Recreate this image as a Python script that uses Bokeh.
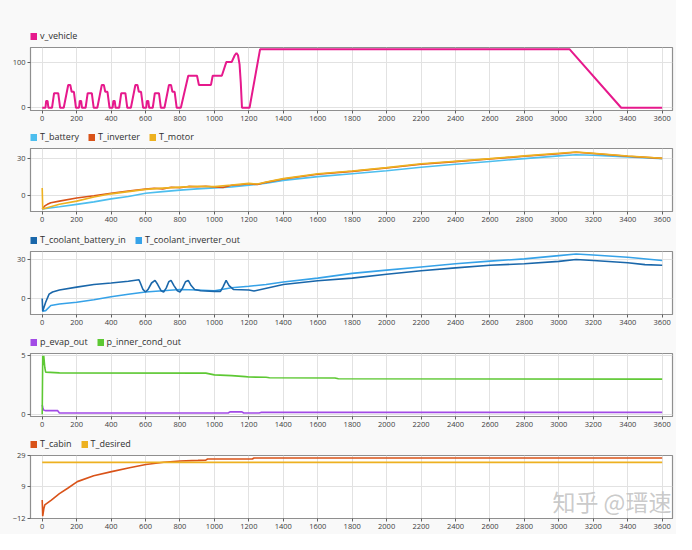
from bokeh.plotting import figure
from bokeh.layouts import column
from bokeh.models import Range1d, FixedTicker, Legend, LegendItem, Label
from bokeh.embed import file_html
from bokeh.resources import INLINE

# ---------------- data ----------------
x_ticks = [0, 200, 400, 600, 800, 1000, 1200, 1400, 1600, 1800, 2000, 2200,
           2400, 2600, 2800, 3000, 3200, 3400, 3600]

v_t = [0, 19, 23, 31, 36, 57, 69, 93, 104, 125, 151, 163, 171, 184, 196,
       214, 218, 226, 231, 252, 264, 288, 299, 320, 346, 358, 366, 379, 391,
       409, 413, 421, 426, 447, 459, 483, 494, 515, 541, 553, 561, 574, 586,
       604, 608, 616, 621, 642, 654, 678, 689, 710, 736, 748, 756, 769, 781,
       805, 848, 899, 910, 980, 990, 1043, 1069, 1100, 1118, 1128, 1137, 1146,
       1153, 1160, 1204, 1265, 3063, 3362, 3600]
v_vehicle = [0, 0, 15, 15, 0, 0, 32, 32, 0, 0, 50, 50, 35, 35, 0,
             0, 15, 15, 0, 0, 32, 32, 0, 0, 50, 50, 35, 35, 0,
             0, 15, 15, 0, 0, 32, 32, 0, 0, 50, 50, 35, 35, 0,
             0, 15, 15, 0, 0, 32, 32, 0, 0, 50, 50, 35, 35, 0,
             0, 70, 70, 50, 50, 70, 70, 100, 100, 115, 120, 115, 95,
             55, 0, 0, 128, 128, 0, 0]

bat_t = [0, 100, 200, 300, 400, 500, 600, 700, 800, 900, 1000, 1100, 1200,
         1300, 1400, 1600, 1800, 2000, 2200, 2400, 2600, 2800, 3000, 3100,
         3200, 3400, 3600]
T_battery = [-11, -9.2, -7.2, -5.2, -2.8, -0.8, 1.8, 3.1, 4.3, 5.3, 6.1, 6.9,
             8.2, 10, 12.2, 15.2, 17.6, 20, 22.8, 25.3, 27.5, 29.8, 32, 33,
             32.5, 31.2, 29.8]

inv_t = [0, 15, 30, 50, 100, 200, 300, 400, 500, 600, 650, 700, 750, 800, 850,
         900, 950, 1000, 1050, 1100, 1150, 1200, 1250, 1300, 1400, 1600, 1800,
         2000, 2200, 2400, 2600, 2800, 3000, 3100, 3200, 3400, 3600]
T_inverter = [-11, -8.5, -7.2, -5.9, -4.6, -2.1, -0.3, 1.8, 3.6, 5.1, 5.8, 5.3,
              6.6, 6.2, 7.3, 7.0, 7.4, 6.8, 6.4, 8.2, 8.6, 9.5, 8.8, 10.6,
              13.3, 17.2, 19.5, 22.2, 25.3, 27.4, 29.5, 31.7, 33.8, 35, 34,
              31.7, 30]

mot_t = [0, 3, 100, 200, 300, 400, 500, 600, 700, 800, 900, 1000, 1100, 1200,
         1250, 1300, 1400, 1600, 1800, 2000, 2200, 2400, 2600, 2800, 3000,
         3100, 3200, 3400, 3600]
T_motor = [6, -11, -7.2, -4.6, -1.3, 1.3, 3.1, 4.9, 5.9, 6.7, 7.4, 7.1, 8.4,
           9.8, 9.2, 10.9, 13.6, 17.5, 19.8, 22.5, 25.6, 27.7, 29.8, 32, 34.1,
           35.2, 34.2, 31.9, 30.1]

cb_t = [0, 3, 20, 40, 60, 100, 200, 300, 400, 500, 562, 570, 585, 600, 615,
        635, 655, 670, 690, 705, 720, 735, 748, 765, 785, 800, 815, 832, 848,
        865, 885, 920, 1000, 1035, 1050, 1068, 1085, 1110, 1200, 1230, 1400,
        1600, 1800, 2000, 2200, 2400, 2600, 2800, 3000, 3100, 3200, 3400, 3500,
        3600]
T_coolant_battery_in = [0, -10, -3, 3.3, 5, 6.5, 8.8, 10.8, 12, 13.3, 14.5, 12,
                        7, 5, 7, 12, 14, 11, 6, 5, 8, 13, 14, 10, 6, 5, 8, 13,
                        14, 10, 7, 6, 5.5, 5.5, 9, 14, 10, 7, 6.5, 5.8, 10.8,
                        13.8, 15.8, 18.8, 21.5, 23.8, 25.8, 27, 28.8, 30.3,
                        29.5, 27.8, 26.3, 25.8]

ci_t = [0, 20, 50, 100, 200, 300, 400, 500, 600, 700, 800, 900, 1000, 1100,
        1200, 1300, 1400, 1600, 1800, 2000, 2200, 2400, 2600, 2800, 3000, 3100,
        3200, 3400, 3600]
T_coolant_inverter_out = [-10, -9.5, -5.5, -4.3, -3, -1, 1.3, 3.3, 5, 6, 7,
                          6.5, 6, 8.3, 9.5, 10.8, 12.8, 15.8, 19.5, 22, 24.5,
                          27, 29, 30.8, 33.3, 34.5, 33.8, 32, 29.5]

pe_t = [0, 3, 8, 20, 90, 100, 1080, 1090, 1160, 1170, 1260, 1270, 3600]
p_evap_out = [0.8, 0.6, 0.35, 0.3, 0.3, 0.1, 0.1, 0.2, 0.2, 0.1, 0.1, 0.15,
              0.15]

pc_t = [0, 3, 6, 9, 12, 15, 20, 100, 950, 1000, 1100, 1180, 1200, 1300, 1320,
        1700, 1720, 3600]
p_inner_cond_out = [0, 5, 4.2, 5, 4.5, 4, 3.6, 3.54, 3.52, 3.37, 3.3, 3.22,
                    3.18, 3.16, 3.12, 3.1, 3.03, 3.0]

cab_t = [0, 3, 10, 15, 53, 100, 148, 204, 299, 403, 507, 602, 706, 801, 905,
         950, 960, 1220, 1230, 3600]
T_cabin = [0, -10.5, -5.3, -3.2, 0, 4.2, 7.7, 12, 15.8, 18.5, 21, 23.1, 24.6,
           25.4, 25.8, 26, 26.7, 26.7, 27.4, 27.4]

des_t = [0, 3600]
T_desired = [24.5, 24.5]

# ---------------- style ----------------
FONT = "Open Sans"
BG = "#f9f9f9"
W = 676
BL = 30
BR = 4
xr = Range1d(-68, 3660)


def make_fig(height, top, bottom, yr, yticks):
    p = figure(width=W, height=height, x_range=xr, y_range=Range1d(*yr),
               output_backend="svg", toolbar_location=None, title=None,
               min_border_left=BL, min_border_right=BR,
               min_border_top=top, min_border_bottom=bottom)
    p.background_fill_color = "white"
    p.border_fill_color = BG
    p.outline_line_color = "#8f8f8f"
    p.outline_line_width = 1.2
    p.xaxis.ticker = FixedTicker(ticks=x_ticks)
    p.yaxis.ticker = FixedTicker(ticks=yticks)
    for ax in (p.xaxis, p.yaxis):
        ax.axis_line_color = "#8f8f8f"
        ax.major_tick_line_color = "#606060"
        ax.major_tick_out = 3
        ax.major_tick_in = 0
        ax.minor_tick_line_color = None
        ax.major_label_text_font = FONT
        ax.major_label_text_font_size = "7.5px"
        ax.major_label_text_color = "#404040"
        ax.major_label_standoff = 2
    p.xgrid.ticker = FixedTicker(ticks=x_ticks)
    p.ygrid.ticker = FixedTicker(ticks=yticks)
    p.grid.grid_line_color = "#e2e2e2"
    p.grid.grid_line_width = 1
    return p


def legend_fig(height, entries):
    # entries: (label, color, xs, ys) -- the series itself serves as the
    # (hidden) legend proxy so that the legend swatch is drawn
    p = figure(width=W, height=height, x_range=Range1d(0, 1),
               y_range=Range1d(0, 1), output_backend="svg",
               toolbar_location=None, title=None, x_axis_type=None,
               y_axis_type=None, min_border_left=BL, min_border_right=BR,
               min_border_top=0, min_border_bottom=0)
    p.background_fill_color = BG
    p.border_fill_color = BG
    p.outline_line_color = None
    p.grid.visible = False
    items = []
    for name, color, xs, ys in entries:
        r = p.line(xs, ys, line_color=color, line_width=7, line_cap="butt",
                   visible=False)
        items.append(LegendItem(label=name, renderers=[r]))
    lg = Legend(items=items, orientation="horizontal", location="bottom_left",
                border_line_alpha=0, background_fill_alpha=0,
                inactive_fill_alpha=0,
                label_text_font=FONT, label_text_font_size="9px",
                label_text_color="#303030", glyph_width=7, glyph_height=10,
                label_height=10, spacing=9, padding=0, margin=0,
                label_standoff=3)
    p.add_layout(lg, "center")
    return p


C_V = "#E6198C"
C_BAT = "#4DBEEE"
C_INV = "#D95319"
C_MOT = "#EDB120"
C_CB = "#1A67AA"
C_CI = "#36A2E8"
C_PE = "#A24BE6"
C_PC = "#5DC833"

# panel 1
l1 = legend_fig(42, [("v_vehicle", C_V, v_t, v_vehicle)])
p1 = make_fig(87, 5, 19, (-6, 132), [0, 100])
p1.line(v_t, v_vehicle, line_color=C_V, line_width=2)

# panel 2
l2 = legend_fig(14, [("T_battery", C_BAT, bat_t, T_battery),
                     ("T_inverter", C_INV, inv_t, T_inverter),
                     ("T_motor", C_MOT, mot_t, T_motor)])
p2 = make_fig(89, 5, 21, (-13, 38), [0, 30])
p2.line(bat_t, T_battery, line_color=C_BAT, line_width=1.6)
p2.line(inv_t, T_inverter, line_color=C_INV, line_width=1.6)
p2.line(mot_t, T_motor, line_color=C_MOT, line_width=1.6)

# panel 3
l3 = legend_fig(14, [("T_coolant_battery_in", C_CB, cb_t, T_coolant_battery_in),
                     ("T_coolant_inverter_out", C_CI, ci_t, T_coolant_inverter_out)])
p3 = make_fig(88, 5, 20, (-12.5, 36.5), [0, 30])
p3.line(ci_t, T_coolant_inverter_out, line_color=C_CI, line_width=1.6)
p3.line(cb_t, T_coolant_battery_in, line_color=C_CB, line_width=1.6)

# panel 4
l4 = legend_fig(14, [("p_evap_out", C_PE, pe_t, p_evap_out),
                     ("p_inner_cond_out", C_PC, pc_t, p_inner_cond_out)])
p4 = make_fig(88, 5, 20, (-0.2, 5.2), [0, 5])
p4.line(pe_t, p_evap_out, line_color=C_PE, line_width=1.6)
p4.line(pc_t, p_inner_cond_out, line_color=C_PC, line_width=1.6)

# panel 5
l5 = legend_fig(14, [("T_cabin", C_INV, cab_t, T_cabin),
                     ("T_desired", C_MOT, des_t, T_desired)])
p5 = make_fig(84, 5, 16, (-12, 29), [-12, 9, 29])
p5.line(cab_t, T_cabin, line_color=C_INV, line_width=1.6)
p5.line(des_t, T_desired, line_color=C_MOT, line_width=1.6)
p5.add_layout(Label(x=2963, y=-12, y_offset=1, text="知乎 @瑨速",
                    text_font="Noto Sans CJK SC", text_font_size="23px",
                    text_color="#c4c4c4", text_alpha=0.9))

layout = column(l1, p1, l2, p2, l3, p3, l4, p4, l5, p5, spacing=0)
layout.styles = {"background-color": BG}
open("out.html", "w").write(file_html(layout, INLINE))
